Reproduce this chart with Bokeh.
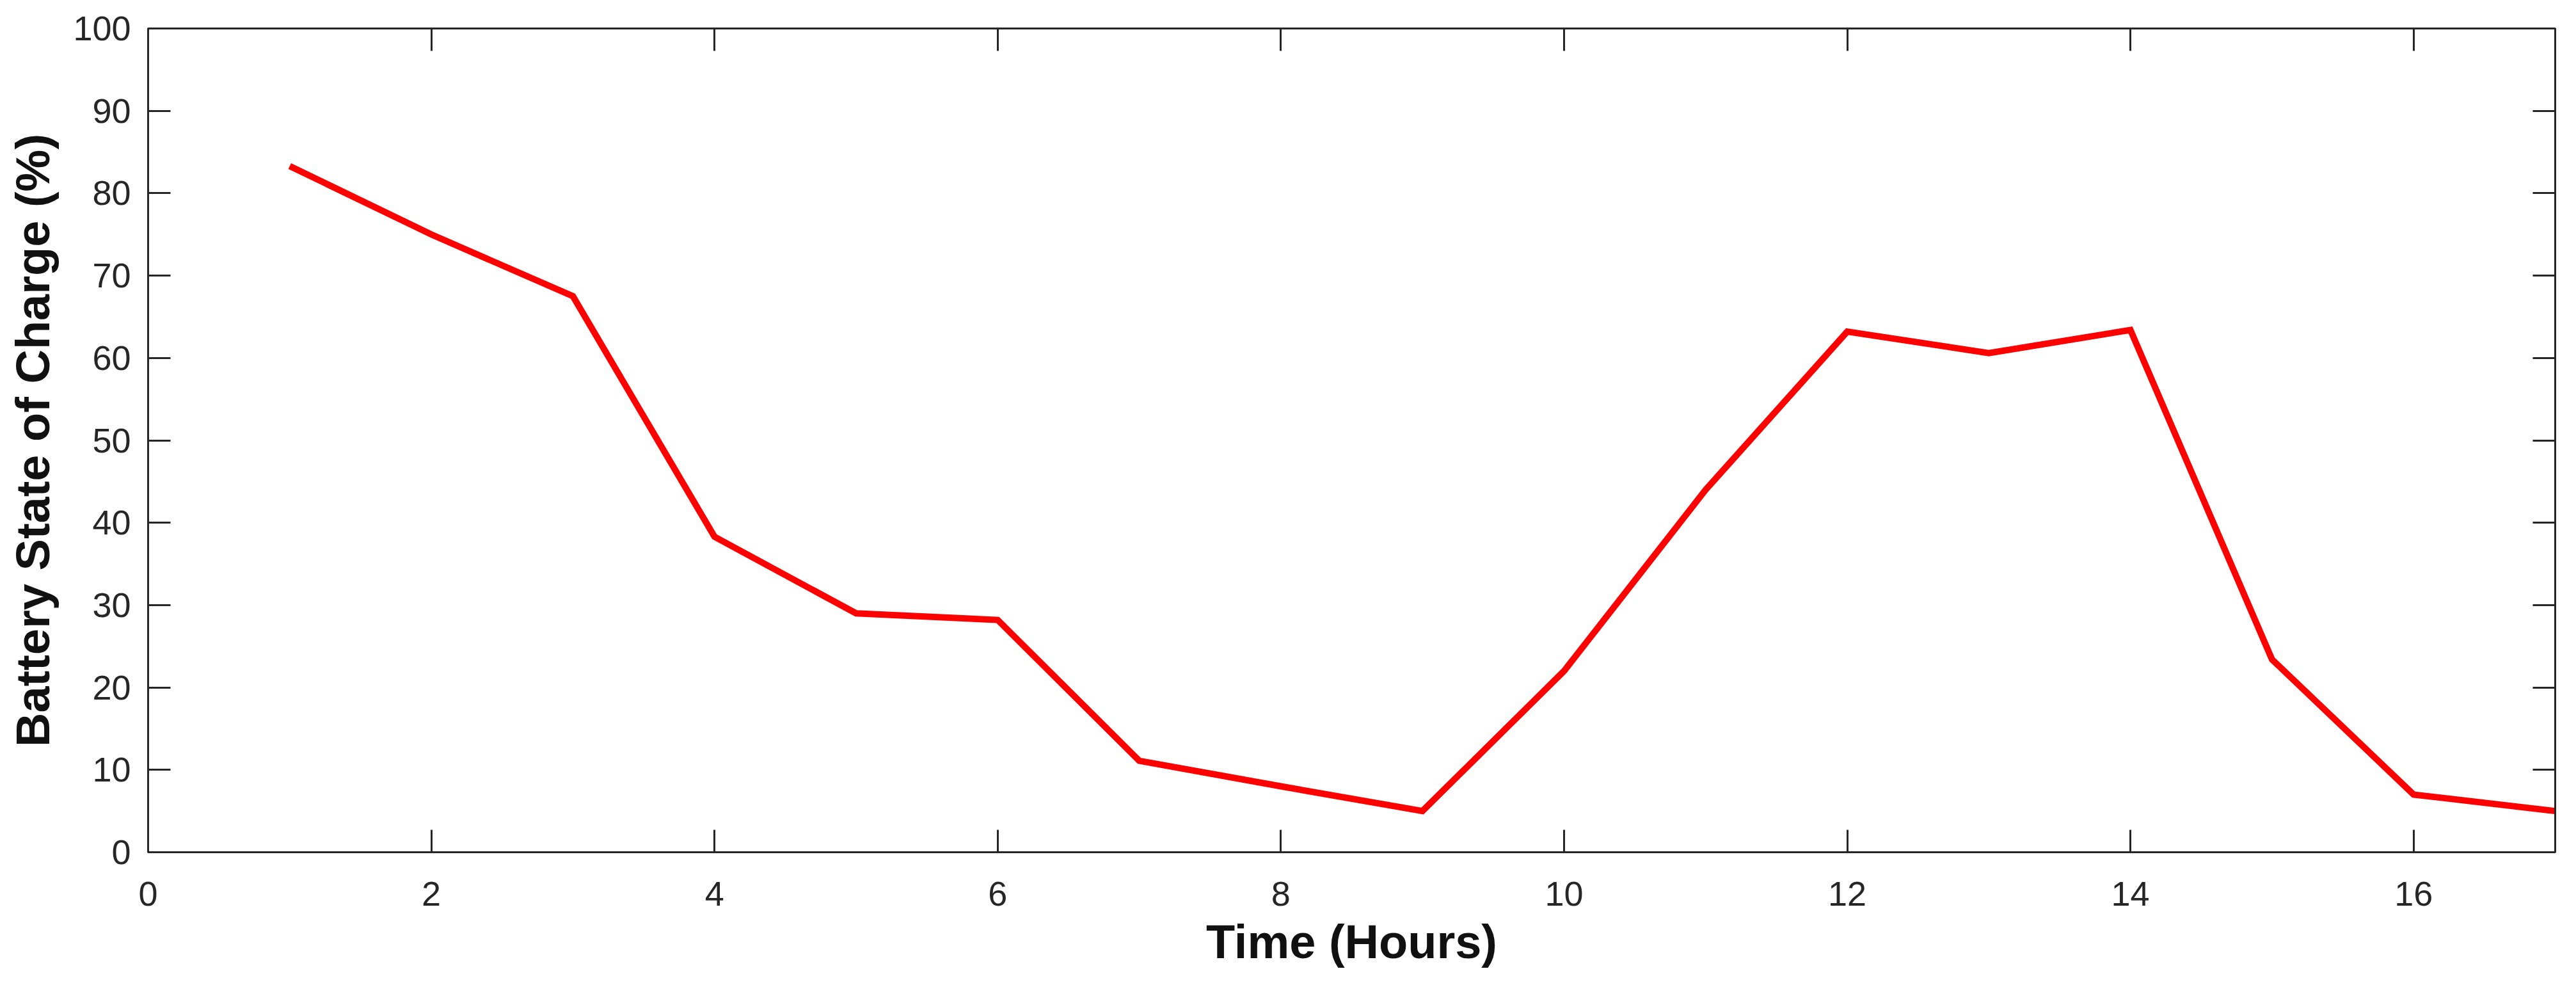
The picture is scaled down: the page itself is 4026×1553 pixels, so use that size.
from bokeh.plotting import figure
from bokeh.models import LinearAxis, FixedTicker, Range1d
from bokeh.embed import file_html
from bokeh.resources import INLINE

# ---- data ----
hours = [1, 2, 3, 4, 5, 6, 7, 8, 9, 10, 11, 12, 13, 14, 15, 16, 17]
soc_percent = [83.3, 75.0, 67.5, 38.3, 29.0, 28.2, 11.1, 8.0, 5.0,
               22.0, 44.0, 63.2, 60.6, 63.4, 23.4, 7.0, 5.0]
x_ticks = [0, 2, 4, 6, 8, 10, 12, 14, 16]
y_ticks = [0, 10, 20, 30, 40, 50, 60, 70, 80, 90, 100]
x_label = "Time (Hours)"
y_label = "Battery State of Charge (%)"

AX = "#262626"
FONT = "Liberation Sans"

p = figure(width=4010, height=1537, output_backend="svg", toolbar_location=None,
           x_range=Range1d(0, 17), y_range=Range1d(0, 100),
           min_border_left=231, min_border_right=17,
           min_border_top=44, min_border_bottom=206)
p.grid.visible = False
p.outline_line_color = AX
p.outline_line_width = 3
p.background_fill_color = "white"
p.border_fill_color = "white"

p.line(hours, soc_percent, line_color="#ff0000", line_width=10, line_join="miter")


def style(ax, ticks, labels=True):
    ax.ticker = FixedTicker(ticks=ticks)
    ax.major_tick_in = 35
    ax.major_tick_out = 0
    ax.minor_tick_line_color = None
    ax.axis_line_color = AX
    ax.axis_line_width = 3
    ax.major_tick_line_color = AX
    ax.major_tick_line_width = 3
    if labels:
        ax.major_label_text_font = FONT
        ax.major_label_text_font_size = "54px"
        ax.major_label_text_color = AX
        ax.axis_label_text_font = FONT
        ax.axis_label_text_font_size = "74px"
        ax.axis_label_text_font_style = "bold"
        ax.axis_label_text_color = "#111111"
    else:
        ax.major_label_text_font_size = "1px"
        ax.major_label_text_color = None
        ax.major_label_standoff = 0
        ax.axis_label = None


xa = p.xaxis[0]
style(xa, x_ticks)
xa.axis_label = x_label
xa.major_label_standoff = 46
xa.axis_label_standoff = 12

ya = p.yaxis[0]
style(ya, y_ticks)
ya.axis_label = y_label
ya.major_label_standoff = 27
ya.axis_label_standoff = 18

top = LinearAxis()
style(top, x_ticks, labels=False)
p.add_layout(top, "above")

right = LinearAxis()
style(right, y_ticks, labels=False)
p.add_layout(right, "right")

open("out.html", "w").write(file_html(p, INLINE))
